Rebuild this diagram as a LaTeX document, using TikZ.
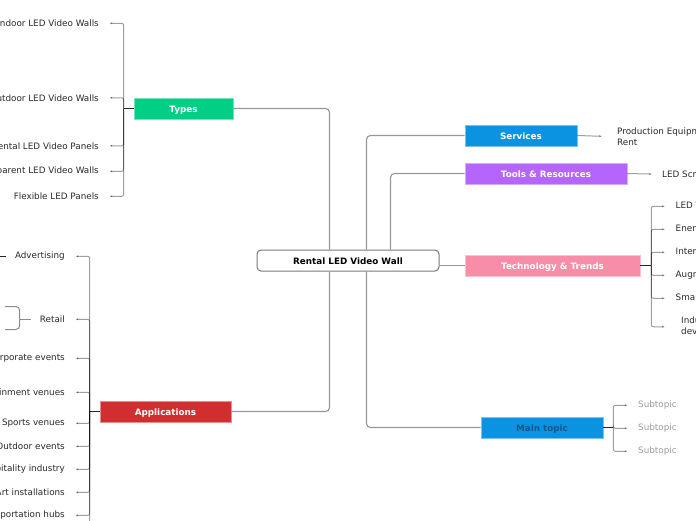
\documentclass[tikz,border=0pt]{standalone}
\usepackage{fontspec}
\setmainfont{DejaVu Sans}
\usepackage{xcolor}
\definecolor{mmgreen}{RGB}{0,207,133}
\definecolor{mmred}{RGB}{209,47,47}
\definecolor{mmblue}{RGB}{11,147,226}
\definecolor{mmpurple}{RGB}{181,101,251}
\definecolor{mmpink}{RGB}{247,141,167}
\definecolor{mmnavy}{RGB}{22,86,140}
\definecolor{mmline}{RGB}{150,150,150}
\definecolor{mmtext}{RGB}{40,40,40}
\definecolor{mmsub}{RGB}{155,155,155}
\usetikzlibrary{arrows.meta, calc}

\begin{document}
\begin{tikzpicture}[x=1pt, y=-1pt,
    txt/.style={font=\fontsize{8.8}{11.5}\selectfont, text=mmtext, inner sep=0pt, yshift=-0.8pt},
    topic/.style={font=\fontsize{8.8}{11}\selectfont\bfseries, text=white, minimum height=21pt,
      text height=7pt, text depth=0pt,
      inner sep=0pt, fill=#1, draw=#1!55!white, line width=0.6pt},
    rootbox/.style={font=\fontsize{8.8}{11}\selectfont\bfseries, text=black, minimum height=21pt,
      text height=7pt, text depth=0pt,
      minimum width=182pt, inner sep=0pt, fill=white, draw=mmline!80!black, line width=1pt, rounded corners=4pt},
    branch/.style={draw=mmline, line width=1.1pt, rounded corners=4pt},
    hub/.style={draw=black!85, line width=1.5pt},
    tick/.style={draw=black, opacity=0.38, line width=1pt, rounded corners=2pt,
      -{Latex[length=2.6pt,width=2.2pt]}, shorten >=10.5pt},
    bracket/.style={draw=black, opacity=0.45, line width=1pt, rounded corners=4pt},
  ]
  \useasboundingbox (0,0) rectangle (696,520);
  \clip (0,0) rectangle (696,520);

  % central topic and main branches
  \node[rootbox] (root) at (348,260.5) {Rental LED Video Wall};
  \node[topic=mmgreen, minimum width=99pt] (types) at (183.5,108.5) {Types};
  \node[topic=mmred, minimum width=131pt] (applications) at (165.5,411.5) {Applications};
  \node[topic=mmblue, minimum width=112pt] (services) at (521,135.5) {Services};
  \node[topic=mmpurple, minimum width=162pt] (tools) at (546,173.5) {Tools \& Resources};
  \node[topic=mmpink, minimum width=175pt] (tech) at (552.5,265.5) {Technology \& Trends};
  \node[topic=mmblue, minimum width=122pt, text=mmnavy] (maintopic) at (542,427.5) {Main topic};

  \draw[branch] (types.east) -| ($(root.north west)+(73,0)$);
  \draw[branch] (applications.east) -| ($(root.south west)+(73,0)$);
  \draw[branch] (services.west) -| ($(root.north west)+(110,0)$);
  \draw[branch] (maintopic.west) -| ($(root.south west)+(110,0)$);
  \draw[branch] (tools.west) -| ($(root.north west)+(134,0)$);
  \draw[branch] (tech.west -| root.east) -- (tech.west);

  % Types (left, top)
  \node[txt, anchor=east] (indoor) at (99,22.5) {Indoor LED Video Walls};
  \node[txt, anchor=east] (outdoor) at (99,97) {Outdoor LED Video Walls};
  \node[txt, anchor=east] (rentalpanels) at (99,145) {Rental LED Video Panels};
  \node[txt, anchor=east] (transparent) at (99,170.5) {Transparent LED Video Walls};
  \node[txt, anchor=east] (flexible) at (99,195.5) {Flexible LED Panels};
  \coordinate (typesjoin) at ($(types.west)+(-10,0)$);
  \draw[hub] (types.west) -- (typesjoin);
  \foreach \c in {indoor,outdoor,rentalpanels,transparent,flexible}
    \draw[tick] (typesjoin) |- (\c.east);

  % Applications (left, bottom)
  \node[txt, anchor=east] (advertising) at (65,255.5) {Advertising};
  \node[txt, anchor=east] (retail) at (65,318.5) {Retail};
  \node[txt, anchor=east] (corporate) at (65,357.5) {Corporate events};
  \node[txt, anchor=east] (entertainment) at (65,391.5) {Entertainment venues};
  \node[txt, anchor=east] (sports) at (65,422.5) {Sports venues};
  \node[txt, anchor=east] (outdoorev) at (65,445.5) {Outdoor events};
  \node[txt, anchor=east] (hospitality) at (65,468.5) {Hospitality industry};
  \node[txt, anchor=east] (art) at (65,491.5) {Art installations};
  \node[txt, anchor=east] (transport) at (65,514.5) {Transportation hubs};
  \coordinate (appmore) at (65,537.5);
  \coordinate (appjoin) at ($(applications.west)+(-10,0)$);
  \draw[hub] (applications.west) -- (appjoin);
  \foreach \c in {advertising,retail,corporate,entertainment,sports,outdoorev,hospitality,art,transport,appmore}
    \draw[tick] (appjoin) |- (\c.east);

  % sub-branches running off the left edge
  \coordinate (advjoin) at ($(advertising.west)+(-20,0)$);
  \draw[hub] ($(advertising.west)+(-9,0)$) -- (advjoin);
  \coordinate (retailjoin) at ($(retail.west)+(-20,0)$);
  \coordinate (retailup) at (5,306.5);
  \coordinate (retaildown) at (5,329.5);
  \draw[bracket] ($(retail.west)+(-9,0)$) -- (retailjoin);
  \draw[bracket] (retailjoin) |- (retailup);
  \draw[bracket] (retailjoin) |- (retaildown);

  % Services and Tools
  \node[txt, anchor=west, align=left] (equipment) at (617,136) {Production Equipment for\\Rent};
  \node[txt, anchor=west] (screens) at (662,173.5) {LED Screens};
  \draw[tick, shorten >=15pt] (services.east) -- (equipment.west);
  \draw[tick, shorten >=10pt] (tools.east) -- (screens.west);

  % Technology & Trends
  \node[txt, anchor=west] (ledtech) at (675.5,205.5) {LED Technology};
  \node[txt, anchor=west] (energy) at (675.5,228.5) {Energy Efficiency};
  \node[txt, anchor=west] (interactive) at (675.5,251.5) {Interactive Displays};
  \node[txt, anchor=west] (augmented) at (675.5,274.5) {Augmented Reality};
  \node[txt, anchor=west] (smart) at (675.5,297.5) {Smart Displays};
  \node[txt, anchor=west, align=left] (industry) at (681,326) {Industry\\developments};
  \coordinate (techjoin) at ($(tech.east)+(11,0)$);
  \draw[hub] (tech.east) -- (techjoin);
  \foreach \c in {ledtech,energy,interactive,augmented,smart}
    \draw[tick] (techjoin) |- (\c.west);
  \draw[tick, shorten >=16pt] (techjoin) |- (industry.west);

  % Main topic
  \node[txt, anchor=west, text=mmsub] (subone) at (638,404.5) {Subtopic};
  \node[txt, anchor=west, text=mmsub] (subtwo) at (638,427.5) {Subtopic};
  \node[txt, anchor=west, text=mmsub] (subthree) at (638,450.5) {Subtopic};
  \coordinate (mainjoin) at ($(maintopic.east)+(10,0)$);
  \draw[hub] (maintopic.east) -- (mainjoin);
  \foreach \c in {subone,subtwo,subthree}
    \draw[tick] (mainjoin) |- (\c.west);
\end{tikzpicture}
\end{document}
